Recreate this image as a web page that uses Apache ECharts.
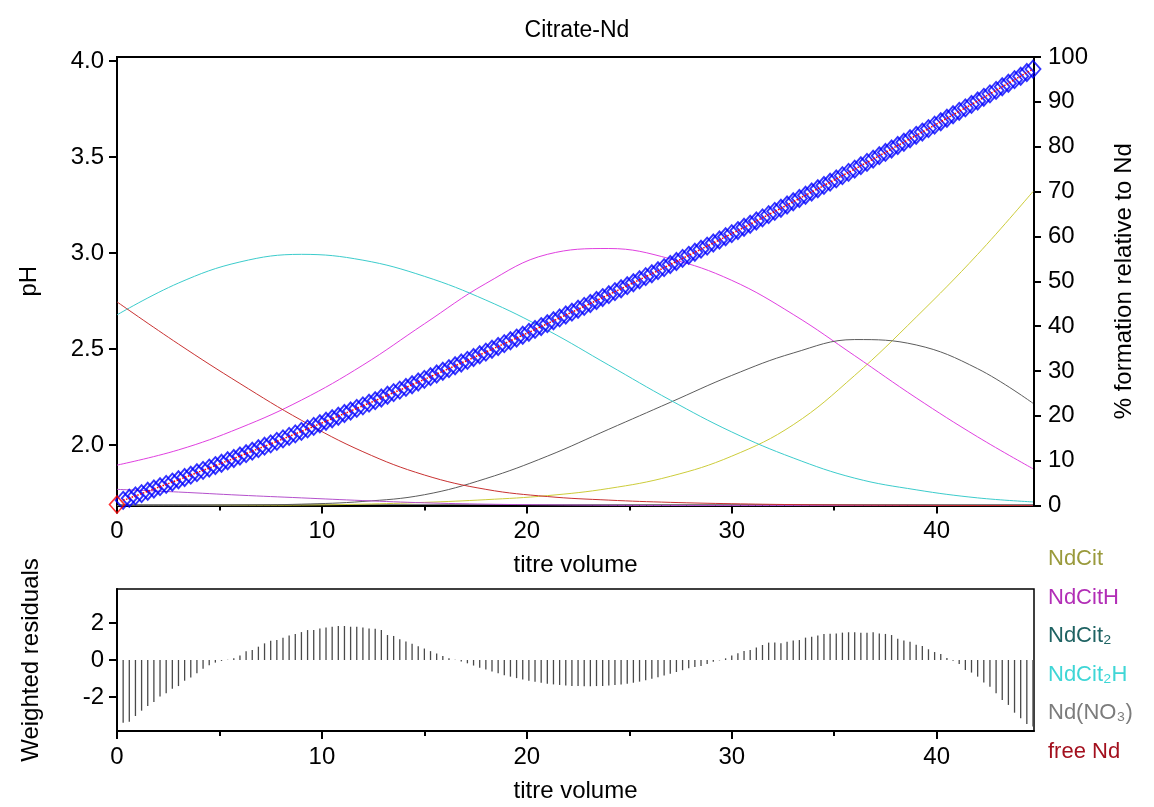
<!DOCTYPE html>
<html><head><meta charset="utf-8">
<script src="https://cdn.jsdelivr.net/npm/echarts@6/dist/echarts.min.js"></script>
<style>html,body{margin:0;padding:0;background:#fff}#c{width:1154px;height:807px}</style>
</head><body><div id="c"></div>
<script>
// titre volume of every measured point
const volume = [
0,0.3,0.6,0.9,1.2,1.5,1.8,2.1,2.4,2.7,
3,3.3,3.6,3.9,4.2,4.5,4.8,5.1,5.4,5.7,
6,6.3,6.6,6.9,7.2,7.5,7.8,8.1,8.4,8.7,
9,9.3,9.6,9.9,10.2,10.5,10.8,11.1,11.4,11.7,
12,12.3,12.6,12.9,13.2,13.5,13.8,14.1,14.4,14.7,
15,15.3,15.6,15.9,16.2,16.5,16.8,17.1,17.4,17.7,
18,18.3,18.6,18.9,19.2,19.5,19.8,20.1,20.4,20.7,
21,21.3,21.6,21.9,22.2,22.5,22.8,23.1,23.4,23.7,
24,24.3,24.6,24.9,25.2,25.5,25.8,26.1,26.4,26.7,
27,27.3,27.6,27.9,28.2,28.5,28.8,29.1,29.4,29.7,
30,30.3,30.6,30.9,31.2,31.5,31.8,32.1,32.4,32.7,
33,33.3,33.6,33.9,34.2,34.5,34.8,35.1,35.4,35.7,
36,36.3,36.6,36.9,37.2,37.5,37.8,38.1,38.4,38.7,
39,39.3,39.6,39.9,40.2,40.5,40.8,41.1,41.4,41.7,
42,42.3,42.6,42.9,43.2,43.5,43.8,44.1,44.4,44.7];
// measured pH (first point excluded, drawn red)
const pH = [
1.690,1.712,1.723,1.735,1.747,1.759,1.771,1.783,1.795,1.807,
1.819,1.831,1.843,1.856,1.868,1.880,1.893,1.905,1.918,1.930,
1.943,1.955,1.968,1.981,1.994,2.006,2.019,2.032,2.045,2.058,
2.071,2.084,2.097,2.111,2.124,2.137,2.150,2.164,2.177,2.191,
2.204,2.218,2.231,2.245,2.259,2.273,2.286,2.300,2.314,2.328,
2.342,2.356,2.370,2.384,2.398,2.413,2.427,2.441,2.456,2.470,
2.484,2.499,2.513,2.528,2.543,2.557,2.572,2.587,2.602,2.617,
2.632,2.647,2.662,2.677,2.692,2.707,2.722,2.737,2.753,2.768,
2.783,2.799,2.814,2.830,2.845,2.861,2.877,2.892,2.908,2.924,
2.940,2.956,2.972,2.988,3.004,3.020,3.036,3.052,3.068,3.085,
3.101,3.117,3.134,3.150,3.167,3.183,3.200,3.217,3.233,3.250,
3.267,3.284,3.301,3.318,3.335,3.352,3.369,3.386,3.403,3.420,
3.437,3.455,3.472,3.489,3.507,3.524,3.542,3.560,3.577,3.595,
3.613,3.630,3.648,3.666,3.684,3.702,3.720,3.738,3.756,3.774,
3.792,3.811,3.829,3.847,3.866,3.884,3.903,3.921,3.940,3.958];
// weighted residuals for volume[1..149]
const residuals = [
-3.39,-3.34,-3.03,-2.74,-2.49,-2.27,-1.98,-1.80,-1.55,-1.41,
-1.12,-0.94,-0.72,-0.47,-0.29,-0.14,-0.05,0.02,0.09,0.25,
0.47,0.54,0.72,0.90,1.04,1.08,1.21,1.33,1.41,1.51,
1.62,1.62,1.71,1.76,1.80,1.84,1.84,1.80,1.80,1.76,
1.71,1.69,1.62,1.35,1.30,1.12,1.00,0.88,0.75,0.62,
0.48,0.35,0.22,0.10,0.02,-0.08,-0.18,-0.30,-0.42,-0.52,
-0.62,-0.72,-0.82,-0.90,-0.98,-1.05,-1.12,-1.18,-1.23,-1.28,
-1.32,-1.35,-1.38,-1.40,-1.41,-1.42,-1.42,-1.41,-1.40,-1.38,
-1.35,-1.32,-1.28,-1.23,-1.17,-1.10,-1.02,-0.93,-0.84,-0.75,
-0.65,-0.55,-0.45,-0.38,-0.32,-0.22,-0.10,-0.02,0.09,0.25,
0.36,0.49,0.54,0.68,0.81,0.94,0.94,0.90,0.99,1.05,
1.08,1.21,1.26,1.32,1.41,1.42,1.44,1.48,1.50,1.50,
1.48,1.48,1.50,1.44,1.41,1.35,1.15,1.05,0.99,0.83,
0.76,0.58,0.43,0.32,0.11,-0.04,-0.22,-0.54,-0.68,-0.90,
-1.22,-1.44,-1.80,-2.16,-2.43,-2.85,-3.15,-3.46,-3.60];
// species distribution (% relative to Nd)
const speciesVolume = [0,3,6,9,12,15,18,21,24,27,30,33,36,39,42,44.7];
const NdCit   = [0,0,0.05,0.1,0.3,0.7,1.3,2.2,3.8,6.5,11,18,29,42,56,70];
const NdCitH  = [9.0,12.4,17.3,23.5,31.3,40.5,49.5,56.0,57.3,55.0,50.2,42.6,33.4,24.0,15.3,8.2];
const NdCit2  = [0,0,0.1,0.3,0.9,2.4,6,11,17,23,29,34,37,35.8,30.5,22.8];
const NdCit2H = [42.5,49.6,54.3,56.0,54.7,51.1,45.8,39.1,31.3,23.5,16.4,10.6,6.1,3.5,1.7,0.8];
const NdNO3   = [3.6,3.0,2.3,1.7,1.1,0.6,0.3,0.15,0.05,0,0,0,0,0,0,0];
const freeNd  = [45.4,36.0,27.2,19.0,12.0,6.8,3.6,2.0,1.2,0.7,0.4,0.2,0.1,0.05,0,0];
// tick labels
const volumeTicks = [0,10,20,30,40];
const pHTicks = [2.0,2.5,3.0,3.5,4.0];
const residualTicks = [-2,0,2];

const FONT = 'Liberation Sans, Arial, sans-serif';
const FS = 24;
const pair = (xs, ys) => ys.map((y, i) => [xs[i], y]);
const chart = echarts.init(document.getElementById('c'));

const xAxisCommon = (gridIndex) => ({
  type: 'value', gridIndex, min: 0, max: 44.75, interval: 10,
  name: 'titre volume', nameLocation: 'middle', nameGap: 48,
  nameTextStyle: { fontFamily: FONT, fontSize: FS, color: '#000' },
  axisLine: { show: true, onZero: false, lineStyle: { color: '#000', width: 2 } },
  axisTick: { show: true, length: 8, customValues: volumeTicks, lineStyle: { color: '#000', width: 2 } },
  minorTick: { show: true, splitNumber: 2, length: 5, lineStyle: { color: '#000', width: 2 } },
  axisLabel: { customValues: volumeTicks, margin: 14, fontFamily: FONT, fontSize: FS, color: '#000' },
  splitLine: { show: false }, minorSplitLine: { show: false }
});

const speciesLine = (name, data, color) => ({
  name, type: 'line', xAxisIndex: 0, yAxisIndex: 1, data: pair(speciesVolume, data),
  smooth: 0.4, symbol: 'none', lineStyle: { color, width: 1 }, itemStyle: { color }, z: 2, silent: true
});

chart.setOption({
  animation: false,
  backgroundColor: '#fff',
  title: { text: 'Citrate-Nd', left: 'center', top: 14,
    textStyle: { fontFamily: FONT, fontSize: 23, fontWeight: 'normal', color: '#000' } },
  legend: {
    orient: 'vertical', left: 1038, top: 542, itemWidth: 0, itemHeight: 0, itemGap: 14.6,
    selectedMode: false, icon: 'rect',
    textStyle: { fontFamily: FONT, fontSize: 22, lineHeight: 24 },
    data: [
      { name: 'NdCit', textStyle: { color: '#9a9a3c' } },
      { name: 'NdCitH', textStyle: { color: '#b22eb6' } },
      { name: 'NdCit₂', textStyle: { color: '#1f6363' } },
      { name: 'NdCit₂H', textStyle: { color: '#3fd6d6' } },
      { name: 'Nd(NO₃)', textStyle: { color: '#7c7c7c' } },
      { name: 'free Nd', textStyle: { color: '#a3101e' } }
    ]
  },
  grid: [
    { left: 117, right: 120, top: 57, height: 448.5, show: true, borderColor: '#000', borderWidth: 2 },
    { left: 117, right: 120, top: 589, height: 142, show: true, borderColor: '#000', borderWidth: 1.5 }
  ],
  xAxis: [xAxisCommon(0), xAxisCommon(1)],
  yAxis: [
    { type: 'value', gridIndex: 0, position: 'left', min: 1.685, max: 4.021,
      name: 'pH', nameLocation: 'middle', nameGap: 76, nameRotate: 90,
      nameTextStyle: { fontFamily: FONT, fontSize: FS, color: '#000' },
      axisLine: { show: true, lineStyle: { color: '#000', width: 2 } },
      axisTick: { show: true, length: 8, customValues: pHTicks, lineStyle: { color: '#000', width: 2 } },
      axisLabel: { customValues: pHTicks, margin: 13, fontFamily: FONT, fontSize: FS, color: '#000',
        formatter: v => v.toFixed(1) },
      splitLine: { show: false } },
    { type: 'value', gridIndex: 0, position: 'right', min: 0, max: 100, interval: 10,
      name: '% formation relative to Nd', nameLocation: 'middle', nameGap: 78, nameRotate: 90,
      nameTextStyle: { fontFamily: FONT, fontSize: FS, color: '#000' },
      axisLine: { show: true, lineStyle: { color: '#000', width: 2 } },
      axisTick: { show: true, length: 7, lineStyle: { color: '#000', width: 2 } },
      axisLabel: { margin: 14, fontFamily: FONT, fontSize: FS, color: '#000' },
      splitLine: { show: false } },
    { type: 'value', gridIndex: 1, position: 'left', min: -3.84, max: 3.84,
      name: 'Weighted residuals', nameLocation: 'middle', nameGap: 74, nameRotate: 90,
      nameTextStyle: { fontFamily: FONT, fontSize: FS, color: '#000' },
      axisLine: { show: true, onZero: false, lineStyle: { color: '#000', width: 2 } },
      axisTick: { show: true, length: 8, customValues: residualTicks, lineStyle: { color: '#000', width: 2 } },
      axisLabel: { customValues: residualTicks, margin: 13, fontFamily: FONT, fontSize: FS, color: '#000' },
      splitLine: { show: false } }
  ],
  series: [
    speciesLine('NdCit', NdCit, '#cccc3a'),
    speciesLine('NdCitH', NdCitH, '#e040e0'),
    speciesLine('NdCit₂', NdCit2, '#5c5c5c'),
    speciesLine('NdCit₂H', NdCit2H, '#3ccccc'),
    speciesLine('Nd(NO₃)', NdNO3, '#b450cc'),
    speciesLine('free Nd', freeNd, '#c83232'),
    { name: 'pH observed', type: 'scatter', xAxisIndex: 0, yAxisIndex: 0,
      data: pair(volume, pH).slice(1), symbol: 'diamond', symbolSize: [15, 17],
      itemStyle: { color: 'rgba(0,0,0,0)', borderColor: '#0000ff', borderWidth: 1.9 }, z: 5, silent: true },
    { name: 'pH excluded', type: 'scatter', xAxisIndex: 0, yAxisIndex: 0,
      data: pair(volume, pH).slice(0, 1), symbol: 'diamond', symbolSize: [15, 17],
      itemStyle: { color: 'rgba(0,0,0,0)', borderColor: '#ff0000', borderWidth: 1.6 }, z: 5, silent: true },
    { name: 'pH calculated', type: 'line', xAxisIndex: 0, yAxisIndex: 0,
      data: pair(volume, pH).slice(1), symbol: 'none',
      lineStyle: { color: '#ff0000', width: 1.5, type: 'dotted' }, z: 6, silent: true },
    { name: 'residuals', type: 'bar', xAxisIndex: 1, yAxisIndex: 2,
      data: pair(volume.slice(1), residuals), barWidth: 1.3,
      itemStyle: { color: '#4a4a4a' }, z: 3, silent: true }
  ]
});
</script></body></html>
